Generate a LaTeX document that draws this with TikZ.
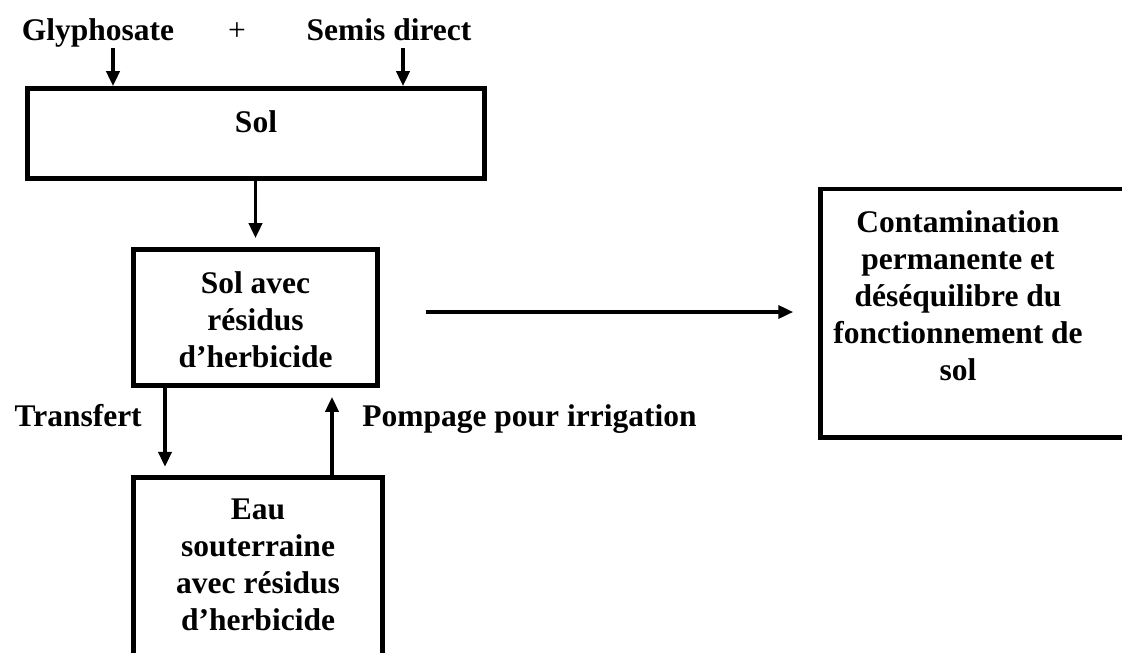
\documentclass[tikz,border=0pt]{standalone}
\usepackage{fontspec}
\setmainfont{Liberation Serif}
\usetikzlibrary{arrows.meta, calc}
\newcommand\diagfont{\fontsize{22.4}{26.3}\selectfont}
\tikzset{
    box/.style={draw, rectangle, line width=3.5pt},
    intxt/.style={anchor=north, align=center, inner sep=0pt, yshift=-0.6cm},
    lbl/.style={inner sep=1pt, text depth=0.17cm, anchor=base},
    arr/.style={line width=2.2pt, -{Triangle[length=0.37cm, width=0.33cm]}}
}

\begin{document}
\begin{tikzpicture}[x=0.025cm, y=-0.025cm, font=\diagfont\bfseries]
    \useasboundingbox (0,0) rectangle (1122,652);
    \clip (0,0) rectangle (1122,652);

    % inputs
    \node[lbl] (glypho) at (98,40) {Glyphosate};
    \node[lbl, font=\diagfont] (plus) at (237,40) {+};
    \node[lbl] (semis) at (389,40) {Semis direct};

    % boxes
    \node[box, minimum width=11.425cm, minimum height=2.25cm,
          label={[intxt]north:Sol}] (sol) at (256,133.5) {};
    \node[box, minimum width=6.1cm, minimum height=3.4cm,
          label={[intxt]north:{Sol avec\\résidus\\d’herbicide}}] (res) at (255.5,317.5) {};
    \node[box, minimum width=6.225cm, minimum height=4.94cm,
          label={[intxt]north:{Eau\\souterraine\\avec résidus\\d’herbicide}}] (eau) at (258,576) {};
    \node[box, minimum width=8.11cm, minimum height=6.21cm,
          label={[intxt, xshift=-0.62cm]north:{Contamination\\permanente et\\déséquilibre du\\fonctionnement de\\sol}}] (cont) at (982.75,313.25) {};

    % arrows
    \draw[arr] ($(glypho.south)+(15,0)$) coordinate (ga) -- (ga |- sol.north);
    \draw[arr] ($(semis.south)+(14,0)$) coordinate (sa) -- (sa |- sol.north);
    \draw[arr] (res.north |- sol.south) -- ($(res.north)+(0,-9)$);
    \draw[arr] ($(res.east)+(46,-5.5)$) coordinate (ra) -- ($(ra -| cont.west)+(-25,0)$);
    \draw[arr] ($(res.south west)+(34,0)$) coordinate (ta) -- ($(ta |- eau.north)+(0,-8)$);
    \draw[arr] ($(eau.north east)+(-53,0)$) coordinate (pa) -- ($(pa |- res.south)+(0,9)$);

    \node[inner sep=0pt, anchor=base east] (transf) at (142,426) {Transfert};
    \node[inner sep=0pt, anchor=base west] (pomp) at (362,426) {Pompage pour irrigation};
\end{tikzpicture}
\end{document}
